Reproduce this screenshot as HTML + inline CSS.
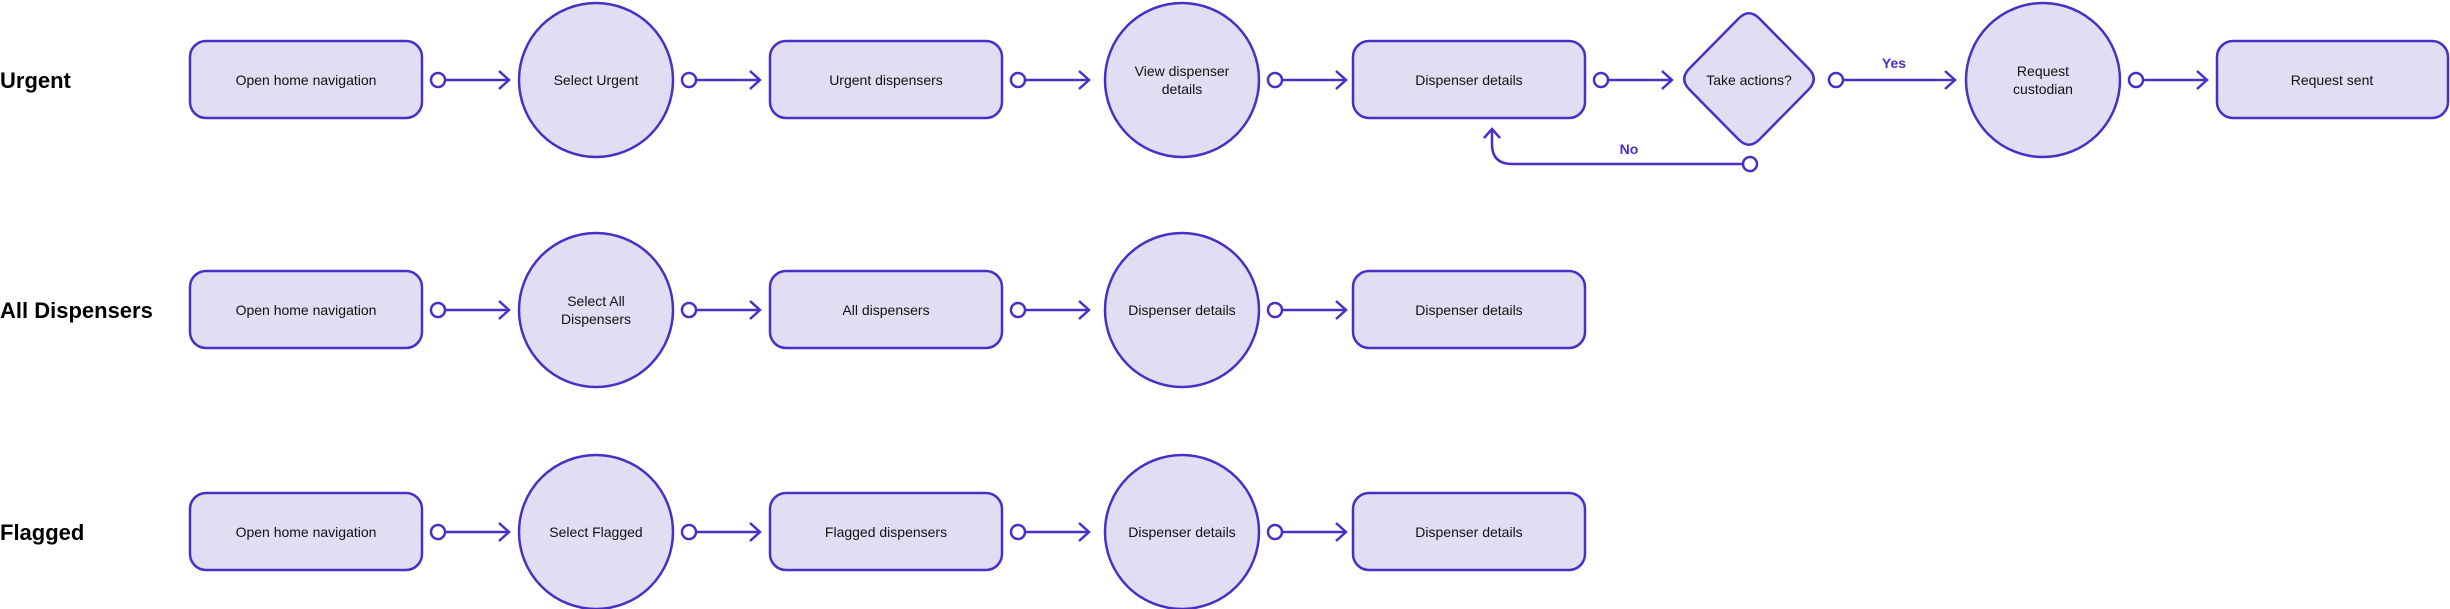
<!DOCTYPE html>
<html><head><meta charset="utf-8"><style>
html,body{margin:0;padding:0;background:#fff;width:2450px;height:609px;overflow:hidden}
svg{display:block}
text{font-family:"Liberation Sans",sans-serif}
.s{fill:#e3ddf4;stroke:#4b2ec6;stroke-width:2.5}
.l{fill:none;stroke:#4b2ec6;stroke-width:2.5}
.c{fill:#fff;stroke:#4b2ec6;stroke-width:2.5}
.t{font-size:14px;fill:#111;text-anchor:middle}
.h{font-size:22px;font-weight:bold;fill:#000}
.lb{font-size:14px;font-weight:bold;fill:#4b2ec6;text-anchor:middle}
</style></head><body>
<svg width="2450" height="609" viewBox="0 0 2450 609" xmlns="http://www.w3.org/2000/svg">
<defs>
<g id="con">
<line class="l" x1="23" y1="0" x2="87" y2="0"/>
<circle class="c" cx="16" cy="0" r="7"/>
<polyline class="l" points="77,-9 87,0 77,9"/>
</g>
</defs>

<!-- Row labels -->
<text class="h" x="0" y="88">Urgent</text>
<text class="h" x="0" y="318">All Dispensers</text>
<text class="h" x="0" y="540">Flagged</text>

<!-- Row 1 -->
<g>
<rect class="s" x="190" y="41" width="232" height="77" rx="16"/>
<text class="t" x="306" y="85">Open home navigation</text>
<use href="#con" x="422" y="80"/>
<circle class="s" cx="596" cy="80" r="77"/>
<text class="t" x="596" y="85">Select Urgent</text>
<use href="#con" x="673" y="80"/>
<rect class="s" x="770" y="41" width="232" height="77" rx="16"/>
<text class="t" x="886" y="85">Urgent dispensers</text>
<use href="#con" x="1002" y="80"/>
<circle class="s" cx="1182" cy="80" r="77"/>
<text class="t" x="1182" y="76">View dispenser</text>
<text class="t" x="1182" y="94">details</text>
<use href="#con" x="1259" y="80"/>
<rect class="s" x="1353" y="41" width="232" height="77" rx="16"/>
<text class="t" x="1469" y="85">Dispenser details</text>
<use href="#con" x="1585" y="80"/>
<path class="s" d="M1738.5,18.6 Q1749,8 1759.5,18.6 L1808.5,68.4 Q1819,79 1808.5,89.6 L1759.5,139.4 Q1749,150 1738.5,139.4 L1689.5,89.6 Q1679,79 1689.5,68.4 Z"/>
<text class="t" x="1749" y="85">Take actions?</text>
<line class="l" x1="1843" y1="80" x2="1955" y2="80"/>
<circle class="c" cx="1836" cy="80" r="7"/>
<polyline class="l" points="1945,71 1955,80 1945,89"/>
<text class="lb" x="1894" y="68">Yes</text>
<circle class="s" cx="2043" cy="80" r="77"/>
<text class="t" x="2043" y="76">Request</text>
<text class="t" x="2043" y="94">custodian</text>
<use href="#con" x="2120" y="80"/>
<rect class="s" x="2217" y="41" width="231" height="77" rx="16"/>
<text class="t" x="2332" y="85">Request sent</text>
<!-- No loop -->
<path class="l" d="M1743,164 L1512,164 Q1492,164 1492,144 L1492,129"/>
<polyline class="l" points="1484,138 1492,129 1500,138"/>
<circle class="c" cx="1750" cy="164" r="7"/>
<text class="lb" x="1629" y="154">No</text>
</g>

<!-- Row 2 -->
<g>
<rect class="s" x="190" y="271" width="232" height="77" rx="16"/>
<text class="t" x="306" y="315">Open home navigation</text>
<use href="#con" x="422" y="310"/>
<circle class="s" cx="596" cy="310" r="77"/>
<text class="t" x="596" y="306">Select All</text>
<text class="t" x="596" y="324">Dispensers</text>
<use href="#con" x="673" y="310"/>
<rect class="s" x="770" y="271" width="232" height="77" rx="16"/>
<text class="t" x="886" y="315">All dispensers</text>
<use href="#con" x="1002" y="310"/>
<circle class="s" cx="1182" cy="310" r="77"/>
<text class="t" x="1182" y="315">Dispenser details</text>
<use href="#con" x="1259" y="310"/>
<rect class="s" x="1353" y="271" width="232" height="77" rx="16"/>
<text class="t" x="1469" y="315">Dispenser details</text>
</g>

<!-- Row 3 -->
<g>
<rect class="s" x="190" y="493" width="232" height="77" rx="16"/>
<text class="t" x="306" y="537">Open home navigation</text>
<use href="#con" x="422" y="532"/>
<circle class="s" cx="596" cy="532" r="77"/>
<text class="t" x="596" y="537">Select Flagged</text>
<use href="#con" x="673" y="532"/>
<rect class="s" x="770" y="493" width="232" height="77" rx="16"/>
<text class="t" x="886" y="537">Flagged dispensers</text>
<use href="#con" x="1002" y="532"/>
<circle class="s" cx="1182" cy="532" r="77"/>
<text class="t" x="1182" y="537">Dispenser details</text>
<use href="#con" x="1259" y="532"/>
<rect class="s" x="1353" y="493" width="232" height="77" rx="16"/>
<text class="t" x="1469" y="537">Dispenser details</text>
</g>
</svg>
</body></html>
